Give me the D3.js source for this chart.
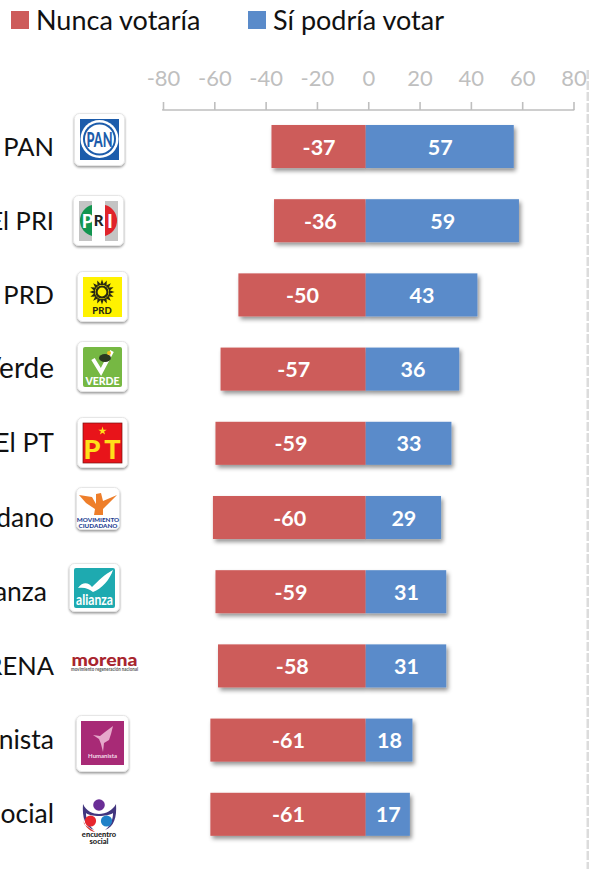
<!DOCTYPE html>
<html><head><meta charset="utf-8">
<script src="https://cdn.jsdelivr.net/npm/d3@7/dist/d3.min.js"></script>
<style>html,body{margin:0;padding:0;background:#fff;overflow:hidden}svg{display:block}text{font-family:Lato,"Open Sans",sans-serif}</style>
</head><body><svg id="c" width="589" height="869"></svg>
<script>
const parties=["El PAN","El PRI","El PRD","El Verde","El PT","Movimiento Ciudadano","Nueva Alianza","MORENA","Humanista","Encuentro Social"];
const nunca=[-37,-36,-50,-57,-59,-60,-59,-58,-61,-61];
const podria=[57,59,43,36,33,29,31,31,18,17];
const ticks=[-80,-60,-40,-20,0,20,40,60,80];
const seriesNames=["Nunca votaría","Sí podría votar"];
const RED="#cd5b5a",BLUE="#5a8bca";

const svg=d3.select("#c");
const defs=svg.append("defs");
const sh=defs.append("filter").attr("id","sh").attr("x","-10%").attr("y","-10%").attr("width","125%").attr("height","135%");
sh.append("feDropShadow").attr("dx",2).attr("dy",3).attr("stdDeviation",2).attr("flood-color","#000").attr("flood-opacity",.42);
const sl=defs.append("filter").attr("id","sl").attr("x","-15%").attr("y","-15%").attr("width","130%").attr("height","130%");
sl.append("feDropShadow").attr("dx",0).attr("dy",1.5).attr("stdDeviation",1.2).attr("flood-color","#000").attr("flood-opacity",.4);

// right-hand dashed rule
svg.append("line").attr("x1",588).attr("x2",588).attr("y1",70).attr("y2",869)
  .attr("stroke","#dcdcdc").attr("stroke-width",3).attr("stroke-dasharray","9 2");

// legend
const lg=svg.append("g");
[[11,RED,36],[248,BLUE,273]].forEach(([x,c,tx],i)=>{
  lg.append("rect").attr("x",x).attr("y",11).attr("width",18).attr("height",18).attr("fill",c);
  lg.append("text").attr("x",tx).attr("y",30).attr("font-size",27).attr("fill","#111").text(seriesNames[i]);
});

// axis
const axisX=d3.scaleLinear().domain([-80,80]).range([163,573.5]);
const axis=d3.axisTop(axisX).tickValues(ticks).tickFormat(d=>String(d)).tickSize(8).tickSizeOuter(0).tickPadding(16);
const ax=svg.append("g").attr("transform","translate(0,110)").call(axis);
ax.selectAll("path,line").attr("stroke","#bfbfbf").attr("stroke-width",1.6);
ax.select(".domain").attr("d","M163,-1V0H573.5V-1");
ax.selectAll("text").attr("fill","#bfbfbf").attr("font-size",22).style("font-family","Lato,sans-serif");

// bars use a small offset and slightly different px-per-unit on either side, as in the source picture
const x=d3.scaleLinear().domain([-80,0,80]).range([162,365.7,573.5]);
const y=d3.scaleBand().domain(parties).range([109.4,851.4]).paddingInner(.42).paddingOuter(.21);
const labelSize=p=>/^(El P|MORENA)/.test(p)&&p!=="El PT"?25.5:p==="El Verde"?28:26.5;
const rows=svg.append("g").selectAll("g").data(parties).join("g");
rows.each(function(p,i){
  const g=d3.select(this),yy=y(p),h=y.bandwidth();
  const bg=g.append("g").attr("filter","url(#sh)");
  bg.append("rect").attr("x",x(nunca[i])).attr("y",yy).attr("width",x(0)-x(nunca[i])).attr("height",h).attr("fill",RED);
  bg.append("rect").attr("x",x(0)).attr("y",yy).attr("width",x(podria[i])-x(0)).attr("height",h).attr("fill",BLUE);
  [[nunca[i],(x(nunca[i])+x(0))/2],[podria[i],(x(podria[i])+x(0))/2]].forEach(([v,cx])=>{
    g.append("text").attr("x",cx+.5).attr("y",yy+h/2+8).attr("text-anchor","middle")
      .attr("font-size",21.5).attr("font-weight",700).attr("fill","#fff").text(v);
  });
  const labelEnd={"Nueva Alianza":47}[p]||54;
  g.append("text").attr("x",labelEnd).attr("y",yy+h/2+9).attr("text-anchor","end")
    .attr("font-size",labelSize(p)).attr("fill","#111").text(p);
});

// logos
function frame(x0,y0,w,h){
  const g=svg.append("g").attr("transform",`translate(${x0},${y0})`);
  g.append("rect").attr("x",.5).attr("y",.5).attr("width",w-1).attr("height",h-2).attr("rx",5).attr("fill","#fff").attr("stroke","#e6e6e6").attr("filter","url(#sl)");
  return g;
}
const T=(g,x0,y0,s,fs,fill,w=700,anchor="middle")=>g.append("text").attr("x",x0).attr("y",y0).attr("text-anchor",anchor).attr("font-size",fs).attr("font-weight",w).attr("fill",fill).text(s);

// PAN
{const g=frame(74,113,51,54);
 g.append("rect").attr("x",6).attr("y",6).attr("width",39).attr("height",41).attr("fill","#1c5cab");
 g.append("circle").attr("cx",25.5).attr("cy",26).attr("r",19).attr("fill","#fff");
 g.append("circle").attr("cx",25.5).attr("cy",26).attr("r",16.5).attr("fill","#1c5cab");
 g.append("circle").attr("cx",25.5).attr("cy",26).attr("r",14.5).attr("fill","#fff");
 T(g,25.5,33.5,"PAN",20,"#1c5cab",900).attr("textLength",26).attr("lengthAdjust","spacingAndGlyphs");}
// PRI
{const g=frame(73,195,51,52);
 g.append("rect").attr("x",6).attr("y",6).attr("width",39).attr("height",40).attr("fill","#c4c4c4");
 g.append("rect").attr("x",19).attr("y",6).attr("width",13).attr("height",40).attr("fill","#fff");
 g.append("path").attr("d","M19,10A16,16 0 0 0 19,41Z").attr("fill","#12954f");
 g.append("path").attr("d","M32,10A16,16 0 0 1 32,41Z").attr("fill","#e0232b");
 T(g,14.5,33,"P",18,"#fff",900);T(g,25.5,31,"R",15,"#222",900);T(g,37,33,"I",18,"#fff",900);}
// PRD
{const g=frame(77,271,51,52);
 g.append("rect").attr("x",6).attr("y",6).attr("width",39).attr("height",40).attr("fill","#fff200");
 const sun=g.append("g").attr("transform","translate(25,21)");
 d3.range(16).forEach(k=>sun.append("path").attr("d","M-2,-7L0,-12.5L2,-7Z").attr("transform",`rotate(${k*22.5})`).attr("fill","#2a2a10"));
 sun.append("circle").attr("r",5.5).attr("fill","none").attr("stroke","#2a2a10").attr("stroke-width",2.2);
 T(g,25,43,"PRD",9.5,"#2a2a10",900);}
// Verde
{const g=frame(77,341,51,52);
 g.append("rect").attr("x",6).attr("y",6).attr("width",39).attr("height",40).attr("rx",2).attr("fill","#76b843");
 g.append("path").attr("d","M16,18L24,31L35,10").attr("fill","none").attr("stroke","#fff").attr("stroke-width",4);
 g.append("ellipse").attr("cx",28).attr("cy",17).attr("rx",6).attr("ry",4).attr("fill","#2b3a20");
 g.append("circle").attr("cx",32).attr("cy",12).attr("r",2).attr("fill","#f4c11e");
 T(g,25.5,44,"VERDE",10.5,"#fff",900);}
// PT
{const g=frame(77,417,51,52);
 g.append("rect").attr("x",6).attr("y",6).attr("width",39).attr("height",40).attr("fill","#e8141a").attr("stroke","#7a1010").attr("stroke-width",.7);
 g.append("path").attr("d",d3.symbol(d3.symbolStar,22)()).attr("transform","translate(25.5,14)").attr("fill","#ffe01a");
 T(g,15,42,"P",27,"#ffe01a",900);T(g,35.5,42,"T",27,"#ffe01a",900);}
// Movimiento Ciudadano
{const g=frame(76,487,44,44);
 g.append("path").attr("d","M3,8L16,10L20,17L20,7L25,6L27,14L41,8L31,18L27,22L27,28L18,28L19,22L10,16Z").attr("fill","#ee7e2a");
 T(g,22,34.5,"MOVIMIENTO",6.3,"#1f3f94",900);T(g,22,40.5,"CIUDADANO",6.3,"#1f3f94",900);}
// Nueva Alianza
{const g=frame(69,563,51,50);
 g.append("rect").attr("x",5).attr("y",5).attr("width",41).attr("height",40).attr("rx",2).attr("fill","#1eaab0");
 g.append("path").attr("d","M9,25C14,18 20,20 23,24C29,18 36,11 44,7C41,16 33,26 24,29C20,26 16,24 9,25Z").attr("fill","#fff");
 T(g,25.5,42,"alianza",15,"#fff",700).attr("textLength",37).attr("lengthAdjust","spacingAndGlyphs");}
// MORENA
{const g=svg.append("g").attr("transform","translate(71,653)");
 T(g,33.5,13,"morena",16.5,"#a8252e",900).attr("textLength",66).attr("lengthAdjust","spacingAndGlyphs");
 T(g,33.5,18,"movimiento regeneración nacional",5,"#555",700).attr("textLength",67).attr("lengthAdjust","spacingAndGlyphs");}
// Humanista
{const g=frame(76,715,53,58);
 g.append("rect").attr("x",5).attr("y",6).attr("width",43).attr("height",44).attr("fill","#a82a76");
 g.append("path").attr("d","M17,20L24,21L29,17L37,11L35,19L33,25L28,28L27,37L25,29L23,24Z").attr("fill","#e6a9cb");
 T(g,26.5,43,"Humanista",6,"#f5dcea",700);}
// Encuentro Social
{const g=svg.append("g").attr("transform","translate(80,797)");
 g.append("path").attr("d","M3,7C6,14 13,17 19,17C26,17 33,13 36,7C37,20 34,30 25,33C32,28 33,20 33,16C28,20 10,20 6,16C6,22 8,28 14,33C5,30 2,20 3,7Z").attr("fill","#42367f");
 g.append("circle").attr("cx",19).attr("cy",8).attr("r",5.8).attr("fill","#6a2e96");
 g.append("circle").attr("cx",10.5).attr("cy",24).attr("r",5.6).attr("fill","#e7262e");
 g.append("circle").attr("cx",26.5).attr("cy",24).attr("r",5.6).attr("fill","#1f80c8");
 g.append("path").attr("d","M3,18C3,29 9,34 15,35L4,27Z").attr("fill","#d8352f");
 T(g,19,40,"encuentro",7.5,"#222",900);T(g,19,47,"social",7.5,"#222",900);}
</script></body></html>
